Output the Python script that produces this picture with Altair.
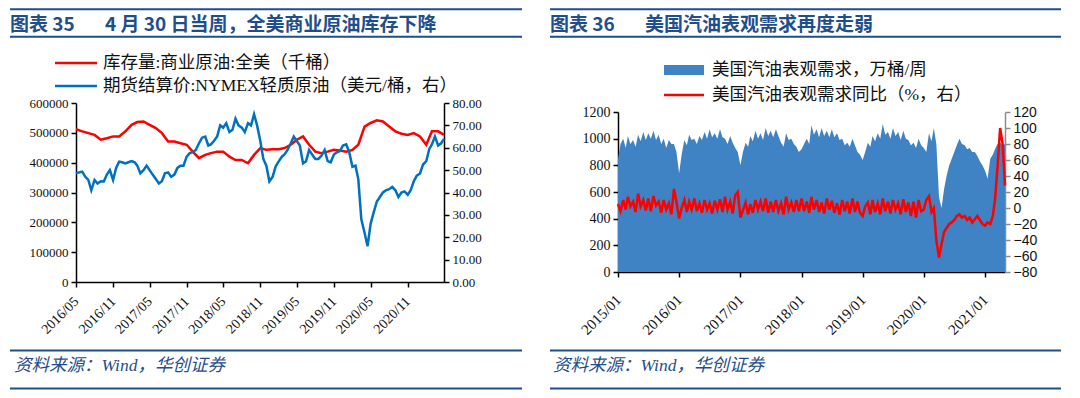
import altair as alt
import pandas as pd

W, H = 1064, 382
SERIF = "'Liberation Serif', 'Noto Sans CJK SC'"
SANS = "'Liberation Sans', 'Noto Sans CJK SC'"
CJK = "'Noto Sans CJK SC'"
NAVY = "#1F4E8C"
RED = "#FF0000"
BLUE = "#0070C0"
AREA = "#3F83C4"

# ---------------- data: left panel (monthly inventory, semi-monthly price) ----------------
inventory_kbbl = [512, 505, 499, 493, 477, 482, 488, 488,
                  505, 527, 536, 538, 527, 516, 499, 471, 471, 465, 460, 437,
                  415, 426, 432, 437, 437, 420, 409, 409, 398, 426, 449, 443,
                  445, 445, 449, 460, 477, 488, 460, 437, 432, 437, 443, 441,
                  437, 443, 460, 521, 533, 542, 538, 521, 505, 497, 493, 499,
                  488, 460, 505, 505, 493]
wti_price = [48.6, 49, 49.3, 47, 45.6, 41, 45.6, 44, 45, 44.9, 48, 50, 45.6, 51, 53.8, 53.5,
             53, 53.5, 54, 53.5, 52, 48.6, 50, 52, 50, 48, 46, 44, 45, 48.6, 49, 47,
             48, 51, 52, 52, 56, 57.6, 58, 59,
             62, 64.5, 65, 61, 61.5, 63, 65, 70, 69, 71, 67, 68, 73, 70, 69, 67,
             71, 70, 75, 70, 63, 55, 52, 45,
             47, 51.6, 54, 56, 57, 59, 62, 65, 63, 61, 53, 54, 59, 57, 55, 55,
             56.5, 59, 54, 53.5, 57, 58, 58.5, 61,
             61.5, 58, 51.5, 52, 46, 28, 22, 16, 26, 31, 36, 38, 40, 41, 41.5, 42.5,
             41, 38, 40, 40.5, 39, 41, 45, 47.5,
             48.5, 52.5, 54, 59.5, 61.5, 65, 61, 62, 64]

# ---------------- data: right panel (semi-monthly) ----------------
demand_2015 = [850, 960, 1000, 930, 1020, 960, 990, 940, 1030, 980, 1050, 990, 1040, 1000, 1060, 990, 1030, 960, 1000, 930, 990, 960, 960, 900]
demand_2016 = [740, 880, 990, 950, 1030, 990, 1000, 960, 1020, 990, 1050, 1000, 1070, 1010, 1040, 1000, 1070, 1010, 1000, 960, 1020, 970, 930, 900]
demand_2017 = [800, 900, 970, 940, 1020, 980, 1060, 1000, 1040, 990, 1080, 1020, 1060, 1010, 1070, 1020, 970, 940, 1040, 990, 1000, 960, 940, 900]
demand_2018 = [920, 960, 1000, 960, 1100, 1030, 1070, 1010, 1080, 1020, 1060, 1010, 1070, 1010, 1040, 990, 1000, 950, 970, 940, 1000, 950, 900, 880]
demand_2019 = [840, 900, 970, 940, 1020, 980, 1040, 1000, 1110, 1030, 1050, 1000, 1080, 1020, 1050, 990, 1060, 1000, 990, 950, 970, 930, 1000, 950]
demand_2020 = [930, 900, 1040, 980, 1080, 960, 560, 480, 620, 720, 800, 850, 900, 950, 1000, 960, 950, 920, 930, 900, 900, 870, 830, 800]
demand_2021 = [760, 700, 850, 880, 920, 960, 970, 950, 960]

yoy_2015 = [5, -4, 10, -2, 14, 2, 8, -5, 18, 2, 10, -3, 12, -4, 15, 3, 8, -6, 10, -2, 6, -8, 24, 8]
yoy_2016 = [-13, 0, 10, -5, 8, -2, 12, -4, 6, -6, 10, -2, 6, -7, 9, -2, 11, -5, 14, -2, 8, -7, 16, 20]
yoy_2017 = [-12, -3, 7, -8, 5, -6, 10, -2, 8, -4, 12, -6, 8, -5, 10, -4, 6, -8, 14, -2, 7, -5, 10, -4]
yoy_2018 = [12, -4, 8, -6, 14, -2, 10, -5, 7, -7, 12, -2, 9, -6, 6, -8, 10, -4, 8, -7, 12, -5, 8, -6]
yoy_2019 = [-10, 2, 7, -8, 10, -5, 6, -8, 12, -4, 8, -7, 10, -2, 6, -8, 11, -5, 7, -10, 8, -12, 10, -4]
yoy_2020 = [-2, 10, 15, -5, 0, -40, -62, -45, -30, -25, -20, -18, -15, -10, -8, -12, -10, -15, -12, -18, -14, -10, -15, -20]
yoy_2021 = [-22, -18, -20, -10, 10, 50, 100, 80, 28]

# tick labels
left_x_ticks = ["2016/05", "2016/11", "2017/05", "2017/11", "2018/05", "2018/11", "2019/05", "2019/11", "2020/05", "2020/11"]
right_x_ticks = ["2015/01", "2016/01", "2017/01", "2018/01", "2019/01", "2020/01", "2021/01"]
inv_ticks = [0, 100000, 200000, 300000, 400000, 500000, 600000]
price_ticks = [0, 10, 20, 30, 40, 50, 60, 70, 80]
demand_ticks = [0, 200, 400, 600, 800, 1000, 1200]
yoy_ticks = [-80, -60, -40, -20, 0, 20, 40, 60, 80, 100, 120]

# texts
title_l_a = "图表 35"
title_l_b = "4 月 30 日当周，全美商业原油库存下降"
title_r_a = "图表 36"
title_r_b = "美国汽油表观需求再度走弱"
leg_l1 = "库存量:商业原油:全美（千桶）"
leg_l2 = "期货结算价:NYMEX轻质原油（美元/桶，右）"
leg_r1 = "美国汽油表观需求，万桶/周"
leg_r2 = "美国汽油表观需求同比（%，右）"
source = "资料来源：Wind，华创证券"


# ---------------- date helpers ----------------
def month_starts(y0, m0, n):
    out = []
    y, m = y0, m0
    for _ in range(n):
        out.append(f"{y}-{m:02d}-01T00:00:00")
        m += 1
        if m > 12:
            m, y = 1, y + 1
    return out


def semi_months(y0, m0, n_months):
    out = []
    for d in month_starts(y0, m0, n_months):
        out.append(d)
        out.append(d.replace("-01T", "-16T"))
    return out


def dt(s):
    y, m = s.split("/")
    return alt.DateTime(year=int(y), month=int(m), date=1)


inv_dates = month_starts(2016, 5, 60) + ["2021-04-30T00:00:00"]
price_dates = semi_months(2016, 5, 60) + ["2021-04-30T00:00:00"]
right_dates = semi_months(2015, 1, 76) + ["2021-04-30T00:00:00"]

df_inv = pd.DataFrame({"date": inv_dates, "v": [v * 1000 for v in inventory_kbbl]})
df_price = pd.DataFrame({"date": price_dates, "v": wti_price})
demand = demand_2015 + demand_2016 + demand_2017 + demand_2018 + demand_2019 + demand_2020 + demand_2021
yoy = yoy_2015 + yoy_2016 + yoy_2017 + yoy_2018 + yoy_2019 + yoy_2020 + yoy_2021
df_dem = pd.DataFrame({"date": right_dates, "v": demand})
df_yoy = pd.DataFrame({"date": right_dates, "v": yoy})

# ---------------- geometry (chart coords) ----------------
LX0, LX1, LY0, LY1 = 68, 436, 274, 95     # left plot: x range, y bottom/top
RX0, RX1, RY0, RY1 = 610, 997, 264, 104   # right plot


def axis(orient, offset, values, fmt=None, font=SERIF, size=13, angle=0, line="#000", pad=3):
    kw = dict(orient=orient, offset=offset, values=values, labelFont=font, labelFontSize=size,
              labelColor="#111", tickSize=5, tickColor=line, tickWidth=1.5, domainColor=line,
              domainWidth=1.5, grid=False, title=None, labelPadding=pad, labelOverlap=False)
    if fmt:
        kw["format"] = fmt
    if angle:
        kw.update(labelAngle=angle, labelAlign="right", labelBaseline="middle")
    return alt.Axis(**kw)


left_xscale = alt.Scale(domain=[alt.DateTime(year=2016, month=5, date=1), alt.DateTime(year=2021, month=4, date=30)],
                        range=[LX0, LX1])
right_xscale = alt.Scale(domain=[alt.DateTime(year=2015, month=1, date=1), alt.DateTime(year=2021, month=4, date=30)],
                         range=[RX0, RX1])

inv_line = alt.Chart(df_inv).mark_line(color=RED, strokeWidth=2.5).encode(
    x=alt.X("date:T", scale=left_xscale,
            axis=axis("bottom", -(H - LY0), [dt(t) for t in left_x_ticks], fmt="%Y/%m", size=14, angle=-45, pad=12)),
    y=alt.Y("v:Q", scale=alt.Scale(domain=[0, 600000], range=[LY0, LY1], nice=False, zero=False),
            axis=axis("left", -LX0, inv_ticks, fmt="d")),
)
price_line = alt.Chart(df_price).mark_line(color=BLUE, strokeWidth=2.5).encode(
    x=alt.X("date:T", scale=left_xscale, axis=None),
    y=alt.Y("v:Q", scale=alt.Scale(domain=[0, 80], range=[LY0, LY1], nice=False, zero=False),
            axis=axis("right", -(W - LX1), price_ticks, fmt=".2f")),
)
dem_area = alt.Chart(df_dem).mark_area(color=AREA, opacity=1).encode(
    x=alt.X("date:T", scale=right_xscale,
            axis=axis("bottom", -(H - RY0), [dt(t) for t in right_x_ticks], fmt="%Y/%m", size=15, angle=-45, pad=20)),
    y=alt.Y("v:Q", scale=alt.Scale(domain=[0, 1200], range=[RY0, RY1], nice=False, zero=True),
            axis=axis("left", -RX0, demand_ticks, fmt="d", size=14)),
)
yoy_line = alt.Chart(df_yoy).mark_line(color=RED, strokeWidth=2.5).encode(
    x=alt.X("date:T", scale=right_xscale, axis=None),
    y=alt.Y("v:Q", scale=alt.Scale(domain=[-80, 120], range=[RY0, RY1], nice=False, zero=False),
            axis=axis("right", -(W - RX1), yoy_ticks, fmt="d", font=SANS, size=14, line="#8c8c8c")),
)

one = pd.DataFrame({"t": [""]})


def txt(s, x, y, size, color="#000", font=SERIF, weight="normal", style="normal", baseline="middle"):
    return alt.Chart(pd.DataFrame({"t": [s]})).mark_text(
        align="left", baseline=baseline, fontSize=size, font=font, fontWeight=weight,
        fontStyle=style, color=color).encode(x=alt.value(x), y=alt.value(y), text="t:N")


def hrule(x0, x1, y, color=NAVY, w=2):
    return alt.Chart(one).mark_rule(color=color, strokeWidth=w).encode(
        x=alt.value(x0), x2=alt.value(x1), y=alt.value(y))


deco = []
for (x0, x1) in [(2, 514), (542, 1053)]:
    deco += [hrule(x0, x1, 1.2), hrule(x0, x1, 28.8), hrule(x0, x1, 342.5), hrule(x0, x1, 380.5)]

TB = 22.5  # title baseline
deco += [
    txt(title_l_a, 2, TB, 19, NAVY, CJK, "bold", baseline="alphabetic"),
    txt(title_l_b, 97, TB, 19, NAVY, CJK, "bold", baseline="alphabetic"),
    txt(title_r_a, 542, TB, 19, NAVY, CJK, "bold", baseline="alphabetic"),
    txt(title_r_b, 637, TB, 19, NAVY, CJK, "bold", baseline="alphabetic"),
    hrule(47, 89, 55, RED, 2.5),
    txt(leg_l1, 95, 55, 17.5, "#111"),
    hrule(47, 89, 78, BLUE, 2.5),
    txt(leg_l2, 95, 78, 17.5, "#111"),
    alt.Chart(one).mark_rect(color=AREA).encode(x=alt.value(656), x2=alt.value(696),
                                                y=alt.value(57), y2=alt.value(67)),
    txt(leg_r1, 704, 62, 17.5, "#111"),
    hrule(656, 696, 87, RED, 2.5),
    txt(leg_r2, 704, 87, 17.5, "#111"),
    txt(source, 6, 358, 17.5, NAVY, SERIF, "normal", "italic"),
    txt(source, 545, 358, 17.5, NAVY, SERIF, "normal", "italic"),
]

chart = alt.layer(dem_area, yoy_line, inv_line, price_line, *deco).resolve_scale(
    x="independent", y="independent"
).properties(
    width=W, height=H, padding=0, autosize=alt.AutoSizeParams(type="none"), background="white"
).configure_view(stroke=None)

chart.save("out.html", embed_options={"renderer": "svg", "actions": False})
